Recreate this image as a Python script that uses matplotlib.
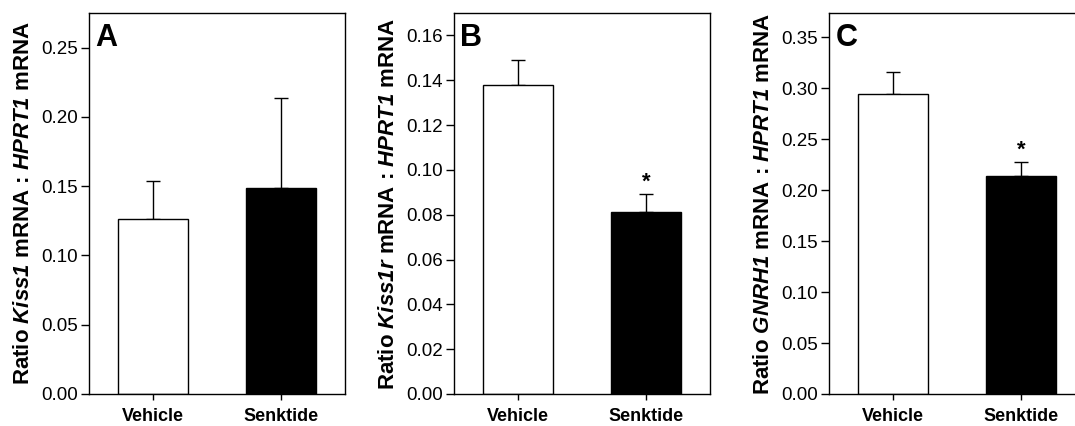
import matplotlib
matplotlib.use("Agg")
import matplotlib.pyplot as plt

plt.rcParams['font.family'] = ['Liberation Sans', 'DejaVu Sans']
plt.rcParams['mathtext.fontset'] = 'custom'
plt.rcParams['mathtext.it'] = 'Liberation Sans:bold:italic'
plt.rcParams['mathtext.rm'] = 'Liberation Sans:bold:italic'
plt.rcParams['mathtext.bf'] = 'Liberation Sans:bold:italic'

# data
groups = ["Vehicle", "Senktide"]
kiss1_mean = [0.126, 0.149]
kiss1_sem = [0.028, 0.065]
kiss1r_mean = [0.138, 0.0813]
kiss1r_sem = [0.011, 0.0078]
gnrh1_mean = [0.294, 0.214]
gnrh1_sem = [0.022, 0.014]
signif = [[False, False], [False, True], [False, True]]

panels = [
    ("A", kiss1_mean, kiss1_sem, 0.275, [0.00, 0.05, 0.10, 0.15, 0.20, 0.25],
     r'Ratio $\mathit{Kiss1}$ mRNA : $\mathit{HPRT1}$ mRNA'),
    ("B", kiss1r_mean, kiss1r_sem, 0.17, [0.00, 0.02, 0.04, 0.06, 0.08, 0.10, 0.12, 0.14, 0.16],
     r'Ratio $\mathit{Kiss1r}$ mRNA : $\mathit{HPRT1}$ mRNA'),
    ("C", gnrh1_mean, gnrh1_sem, 0.374, [0.00, 0.05, 0.10, 0.15, 0.20, 0.25, 0.30, 0.35],
     r'Ratio $\mathit{GNRH1}$ mRNA : $\mathit{HPRT1}$ mRNA'),
]

fig = plt.figure(figsize=(10.75, 4.26), dpi=100)
lefts = [89, 454, 829]
W, H = 1075, 426

for i, (letter, mean, sem, ytop, yticks, ylabel) in enumerate(panels):
    ax = fig.add_axes([lefts[i] / W, 1 - 394 / H, 256 / W, 381 / H])
    x = [0, 1]
    ax.bar(x, mean, width=0.55, color=['white', 'black'], edgecolor='black', linewidth=1.0, zorder=2)
    ax.errorbar(x, mean, yerr=[[0, 0], sem], fmt='none', ecolor='black',
                elinewidth=1.0, capsize=5, capthick=1.0, zorder=1)
    for j in range(2):
        if signif[i][j]:
            ax.annotate('*', (x[j], mean[j] + sem[j]), xytext=(0, 1), textcoords='offset points',
                        ha='center', va='bottom', fontsize=16, fontweight='bold')
    ax.set_xlim(-0.5, 1.5)
    ax.set_ylim(0, ytop)
    ax.set_yticks(yticks)
    ax.set_yticklabels([f"{v:.2f}" for v in yticks], fontsize=13.5)
    ax.set_xticks(x)
    ax.set_xticklabels(groups, fontsize=13, fontweight='bold')
    ax.tick_params(axis='y', direction='out', length=6, width=1.0, pad=2)
    ax.tick_params(axis='x', direction='out', length=4, width=1.0, pad=6)
    for s in ax.spines.values():
        s.set_linewidth(1.0)
    ax.set_ylabel(ylabel, fontsize=16, fontweight='bold', labelpad=5)
    ax.text(0.025, 0.975, letter, transform=ax.transAxes, ha='left', va='top',
            fontsize=22, fontweight='bold')

fig.savefig("out.png", dpi=100)
